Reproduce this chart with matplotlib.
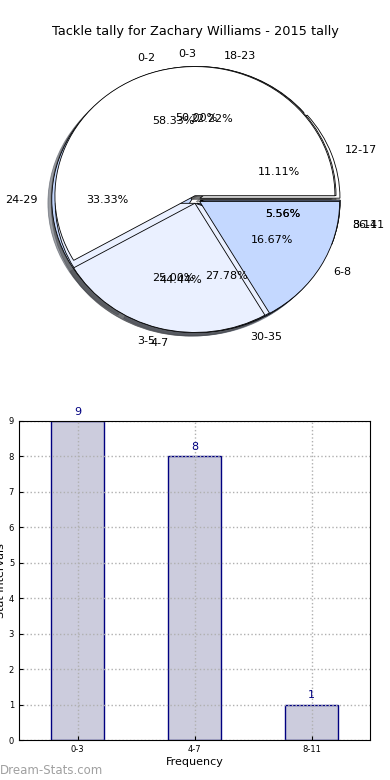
import matplotlib
matplotlib.use('Agg')
import matplotlib.pyplot as plt

# pie data: three tallies overlaid on one axes
labels_a = ['0-3', '4-7', '8-11']
values_a = [9, 8, 1]
labels_b = ['0-2', '3-5', '6-8']
values_b = [7, 3, 2]
labels_c = ['12-17', '18-23', '24-29', '30-35', '36-41']
values_c = [2, 4, 6, 5, 1]

# bar data
bar_cats = ['0-3', '4-7', '8-11']
bar_vals = [9, 8, 1]

pie_colors = ['#ffffff', '#eaf0ff', '#c4d8ff', '#8fb2f5', '#5d8ce0']

fig = plt.figure(figsize=(3.9, 7.8), dpi=100)

ax1 = fig.add_axes([21 / 390, 1 - 361 / 780, 350 / 390, 323 / 780])
wp = dict(edgecolor='black', linewidth=0.6)
tp = dict(fontsize=8)
for labs, vals in [(labels_c, values_c), (labels_a, values_a), (labels_b, values_b)]:
    ax1.pie(vals, labels=labs, colors=pie_colors[:len(vals)],
            explode=[0.03] * len(vals), autopct='%.2f%%', shadow=True,
            wedgeprops=wp, textprops=tp)
ax1.set_aspect('auto')
ax1.set_xlim(-1.25, 1.25)
ax1.set_ylim(-1.25, 1.25)

fig.text(0.5, 1 - 31 / 780, 'Tackle tally for Zachary Williams - 2015 tally',
         ha='center', va='center', fontsize=9.3)

ax2 = fig.add_axes([19 / 390, 40 / 780, 351 / 390, 319 / 780])
x = range(len(bar_cats))
bars = ax2.bar(x, bar_vals, width=0.45, color='#ccccdd', edgecolor='navy', linewidth=1)
for xi, v in zip(x, bar_vals):
    ax2.text(xi, v + 0.12, str(v), ha='center', va='bottom', color='navy', fontsize=8)
ax2.set_xticks(list(x))
ax2.set_xticklabels(bar_cats)
ax2.set_xlim(-0.5, 2.5)
ax2.set_ylim(0, 9)
ax2.set_yticks(range(10))
ax2.tick_params(labelsize=6, direction='in', length=3)
ax2.grid(True, color='#b0b0b0', linestyle=':', linewidth=1)
ax2.set_axisbelow(False)
for sp in ax2.spines.values():
    sp.set_zorder(4)
ax2.set_xlabel('Frequency', fontsize=8, labelpad=2)
ax2.set_ylabel('Stat Intervals', fontsize=8, labelpad=2)

fig.text(0.0, 1 - 770 / 780, 'Dream-Stats.com', ha='left', va='center',
         fontsize=8.5, color='#a0a0a0')

fig.savefig('out.png', dpi=100)
